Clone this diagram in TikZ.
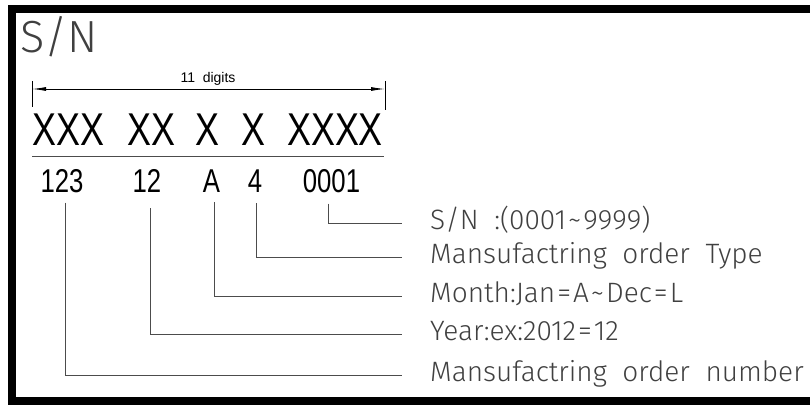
\documentclass[tikz,border=0pt]{standalone}
\usepackage{fontspec}
\setmainfont{Liberation Sans}
\newfontfamily\narrowfont{Liberation Sans}[FakeStretch=0.78]
\newfontfamily\cadfont{Fira Sans Light}
\usetikzlibrary{arrows.meta}

\newcommand{\tl}{\kern2pt\textasciitilde\kern2pt}
\newcommand{\eqs}{\kern2pt=\kern2pt}

\begin{document}
\begin{tikzpicture}[x=1pt,y=-1pt,
    frame/.style={line width=7.5pt},
    dimline/.style={line width=0.9pt,{Latex[length=14pt,width=4pt]}-{Latex[length=14pt,width=4pt]}},
    tick/.style={line width=0.9pt},
    code/.style={inner sep=0pt,anchor=base,font=\narrowfont\fontsize{46}{46}\selectfont},
    digit/.style={inner sep=0pt,anchor=base,font=\narrowfont\fontsize{33}{33}\selectfont},
    lbl/.style={inner sep=0pt,anchor=base west,text=black!75,font=\cadfont\fontsize{28}{28}\selectfont},
    leader/.style={line width=1pt,black!70}]
    \useasboundingbox (0,0) rectangle (810,406);
    % frame
    \draw[frame] (812,9) -- (12,9) -- (12,401) -- (812,401);
    % title
    \node[inner sep=0pt,anchor=base west,text=black!75,font=\cadfont\fontsize{45}{45}\selectfont] (title) at (20,53) {S/N};
    % dimension over the code
    \coordinate (dl1) at (32,81);  \coordinate (dl2) at (32,107);
    \coordinate (dr1) at (385,81); \coordinate (dr2) at (385,110);
    \draw[tick] (dl1) -- (dl2);
    \draw[tick] (dr1) -- (dr2);
    \coordinate (al) at (32,89); \coordinate (ar) at (385,89);
    \draw[dimline] (al) -- (ar);
    \node[inner sep=0pt,anchor=base,font=\fontsize{14}{14}\selectfont] (ndig) at (208,83) {11\ \ digits};
    % code groups
    \node[code] (c1) at (68.5,146) {XXX};
    \node[code] (c2) at (151,146) {XX};
    \node[code] (c3) at (207.5,146) {X};
    \node[code] (c4) at (253.5,146) {X};
    \node[code] (c5) at (335,146) {XXXX};
    % underline
    \coordinate (ul) at (32,157); \coordinate (ur) at (384,157);
    \draw[leader] (ul) -- (ur);
    % example values
    \node[digit] (d1) at (62,192) {123};
    \node[digit] (d2) at (147,192) {12};
    \node[digit] (d3) at (211.5,192) {A};
    \node[digit] (d4) at (255,192) {4};
    \node[digit] (d5) at (331.5,192) {0001};
    % meanings
    \node[lbl] (l5) at (430,229) {S/N\ \ :(0001\tl9999)};
    \node[lbl] (l4) at (430,263) {Mansufactring\ \ order\ \ Type};
    \node[lbl] (l3) at (430,302) {Month:Jan\eqs A\tl Dec\eqs L};
    \node[lbl] (l2) at (430,340) {Year:ex:2012\eqs 12};
    \node[lbl] (l1) at (430,381) {Mansufactring\ \ order\ \ number};
    % leaders
    \draw[leader] ([xshift=-3.5pt,yshift=-11pt]d5.south) |- ([xshift=-28pt,yshift=6pt]l5.base west);
    \draw[leader] ([xshift=1pt,yshift=-11pt]d4.south) |- ([xshift=-28pt,yshift=6pt]l4.base west);
    \draw[leader] ([xshift=2.5pt,yshift=-10pt]d3.south) |- ([xshift=-28pt,yshift=6pt]l3.base west);
    \draw[leader] ([xshift=3pt,yshift=-16pt]d2.south) |- ([xshift=-28pt,yshift=6pt]l2.base west);
    \draw[leader] ([xshift=3pt,yshift=-10pt]d1.south) |- ([xshift=-28pt,yshift=6pt]l1.base west);
\end{tikzpicture}
\end{document}
